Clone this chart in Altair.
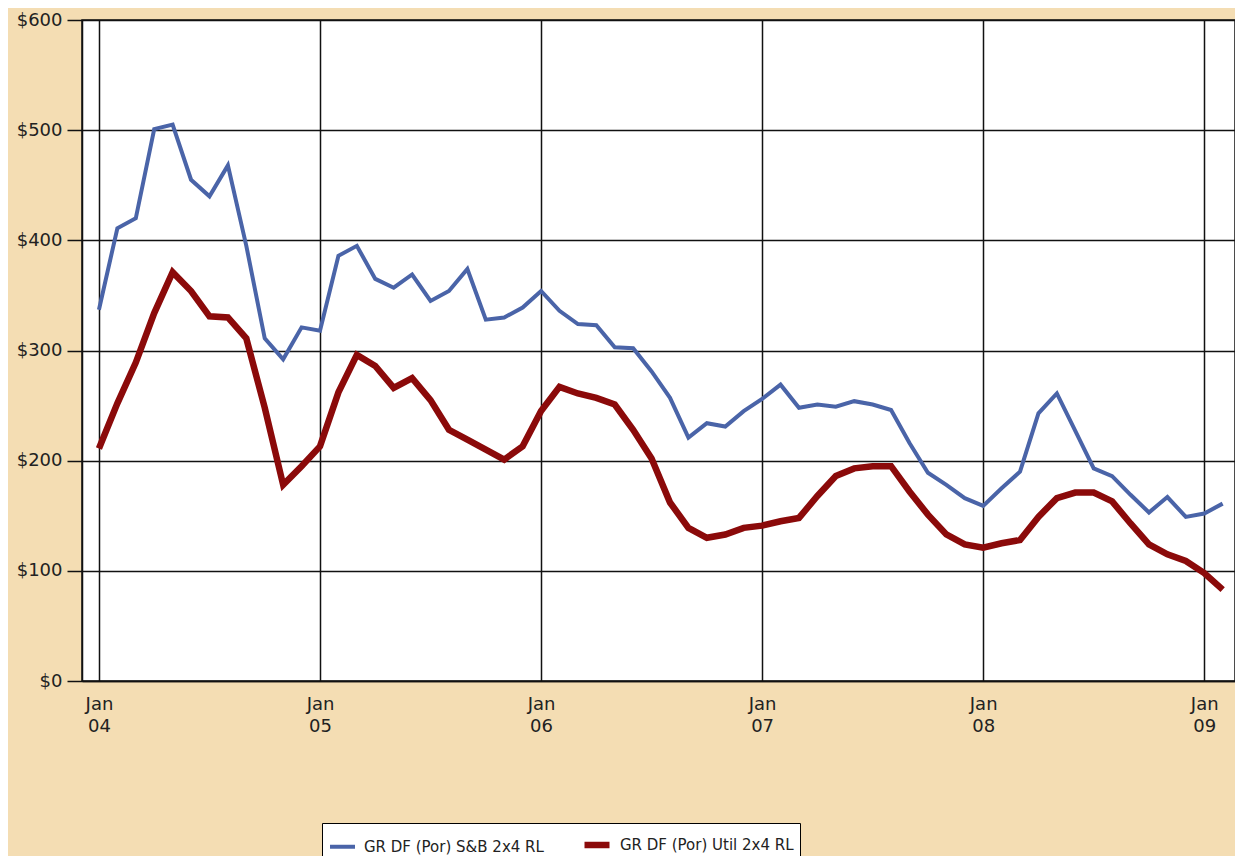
import altair as alt
import pandas as pd

# ---- data ----
months = [f"{2004 + i // 12}-{i % 12 + 1:02d}" for i in range(62)]  # Jan 2004 .. Feb 2009

sb_prices = [337, 411, 420, 501, 505, 455, 440, 468, 395, 311, 292, 321,
             318, 386, 395, 365, 357, 369, 345, 354, 374, 328, 330, 339,
             354, 336, 324, 323, 303, 302, 281, 257, 221, 234, 231, 245,
             256, 269, 248, 251, 249, 254, 251, 246, 216, 189, 178, 166,
             159, 175, 190, 243, 261, 227, 193, 186, 169, 153, 167, 149,
             152, 161]

util_prices = [211, 252, 289, 334, 371, 354, 331, 330, 311, 248, 178, 195,
               213, 262, 296, 286, 266, 275, 255, 228, 219, 210, 201, 213,
               245, 267, 261, 257, 251, 228, 202, 162, 139, 130, 133, 139,
               141, 145, 148, 168, 186, 193, 195, 195, 172, 151, 133, 124,
               121, 125, 128, 149, 166, 171, 171, 163, 143, 124, 115, 109,
               98, 83]

series_names = ["GR DF (Por) S&B 2x4 RL", "GR DF (Por) Util 2x4 RL"]
series_colors = ["#4A64A8", "#8B0A0A"]
series_widths = [4, 6.5]

x_tick_month = "Jan"
x_tick_years = ["04", "05", "06", "07", "08", "09"]
x_tick_values = [0, 12, 24, 36, 48, 60]
y_tick_values = [0, 100, 200, 300, 400, 500, 600]

rows = []
for i, m in enumerate(months):
    rows.append({"idx": i, "month": m, "series": series_names[0], "price": sb_prices[i]})
for i, m in enumerate(months):
    rows.append({"idx": i, "month": m, "series": series_names[1], "price": util_prices[i]})
df = pd.DataFrame(rows)

x_label_expr = "['" + x_tick_month + "', " + str(x_tick_years) + "[round(datum.value / 12)]]"

FONT = "DejaVu Sans"

chart = alt.Chart(df).mark_line().encode(
    x=alt.X(
        "idx:Q",
        scale=alt.Scale(domain=[-0.92, 61.67], nice=False, zero=False),
        axis=alt.Axis(
            values=x_tick_values,
            labelExpr=x_label_expr,
            title=None,
            ticks=False,
            grid=True,
            labelPadding=14,
            labelAlign="center",
            labelBaseline="top",
            labelLineHeight=22,
            labelFlush=False,
        ),
    ),
    y=alt.Y(
        "price:Q",
        scale=alt.Scale(domain=[0, 600], nice=False),
        axis=alt.Axis(
            values=y_tick_values,
            labelExpr="'$' + datum.value",
            title=None,
            tickSize=15,
            labelPadding=5,
            grid=True,
        ),
    ),
    color=alt.Color(
        "series:N",
        scale=alt.Scale(domain=series_names, range=series_colors),
        legend=alt.Legend(
            orient="none",
            legendX=240,
            legendY=803,
            direction="horizontal",
            title=None,
            fillColor="white",
            strokeColor="black",
            padding=6,
            symbolType="stroke",
            symbolStrokeWidth=4,
            symbolSize=625,
            labelFontSize=15,
            labelFont=FONT,
            labelColor="#222222",
            labelLimit=0,
            columnPadding=27,
            labelOffset=7,
        ),
    ),
    strokeWidth=alt.StrokeWidth(
        "series:N",
        scale=alt.Scale(domain=series_names, range=series_widths),
        legend=None,
    ),
).properties(
    width=1153,
    height=661,
    autosize=alt.AutoSizeParams(type="none"),
    padding={"left": 74, "top": 12, "right": 0, "bottom": 175},
    background="#F4DDB3",
).configure_view(
    fill="white",
    stroke="#111111",
    strokeWidth=1.5,
).configure_axis(
    gridColor="#111111",
    gridWidth=1.5,
    gridOpacity=1,
    domainColor="#111111",
    domainWidth=1.5,
    tickColor="#111111",
    tickWidth=1.5,
    labelFont=FONT,
    labelFontSize=18,
    labelColor="#222222",
)

chart.save("out.html", embed_options={"renderer": "svg", "actions": False})
